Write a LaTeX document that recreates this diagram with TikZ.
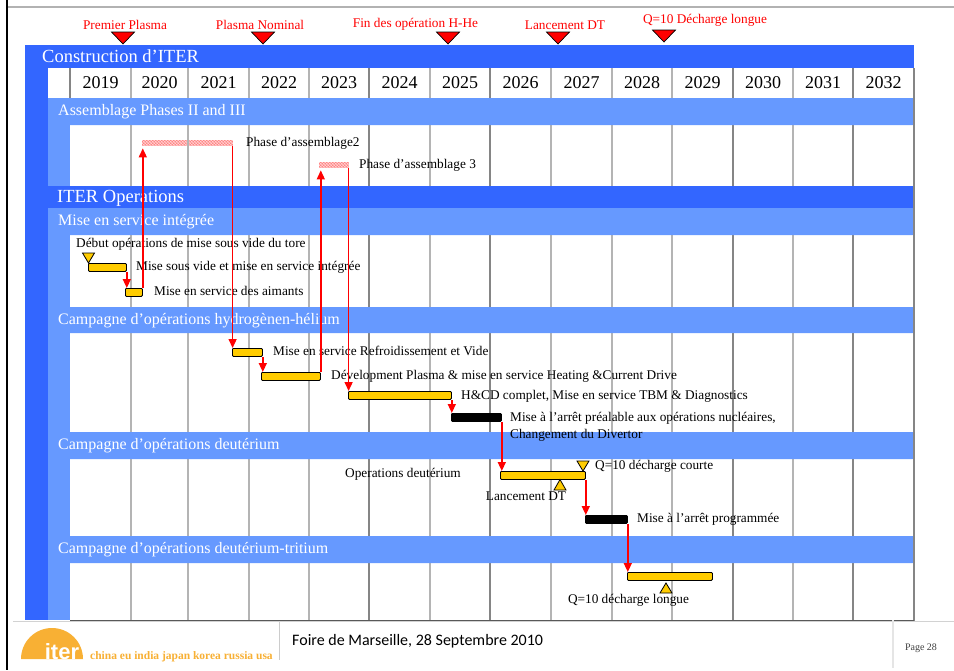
\documentclass[tikz,border=0pt]{standalone}
\usepackage{fontspec}
\setmainfont{Liberation Serif}
\newfontfamily\footfont{Carlito}
\newfontfamily\logofont{Liberation Sans}
\usetikzlibrary{arrows.meta,calc}
\definecolor{dblue}{HTML}{3366FF}
\definecolor{lblue}{HTML}{6699FF}
\definecolor{gold}{HTML}{FFCC00}
\definecolor{mred}{HTML}{FF0000}
\definecolor{pinkfill}{HTML}{FF8080}
\definecolor{iterorange}{HTML}{F8B034}
\definecolor{gridc}{HTML}{B4B4B4}
\definecolor{gridd}{HTML}{858585}
\newcommand\hatchbar[1]{%
  \begin{scope}
    \clip (#1.south west) rectangle (#1.north east);
    \foreach \hh in {-12,-9,...,110}{
      \draw[white,opacity=0.6,line width=0.5pt] ($(#1.south west)+(\hh,0)$) -- ++(10,-10);
      \draw[white,opacity=0.6,line width=0.5pt] ($(#1.north west)+(\hh,0)$) -- ++(10,10);
    }
  \end{scope}}
\begin{document}
\begin{tikzpicture}[x=1pt,y=-1pt,
 bandtxt/.style={anchor=west,inner sep=0,text=white,font=\fontsize{16}{16}\selectfont,text height=11pt,text depth=4pt},
 bigtxt/.style={anchor=west,inner sep=0,text=white,font=\fontsize{18.5}{18.5}\selectfont,text height=13pt,text depth=4pt},
 yeartxt/.style={inner sep=0,font=\fontsize{18}{18}\selectfont},
 lab/.style={anchor=west,inner sep=0,font=\fontsize{13.3}{13.3}\selectfont,text height=9.5pt,text depth=3pt},
 clab/.style={lab,anchor=center},
 redlab/.style={inner sep=0,text=mred,font=\fontsize{13.3}{13.3}\selectfont},
 bar/.style={draw=black,line width=0.8pt,fill=gold,rounded corners=1pt,minimum height=8pt,inner sep=0,anchor=north west},
 blackbar/.style={bar,fill=black},
 hatch/.style={fill=pinkfill,minimum height=6pt,inner sep=0,anchor=north west},
 link/.style={draw=mred,line width=1.5pt,-{Triangle[length=9pt,width=8pt]}},
 redtri/.style={fill=mred,draw=black,line width=0.7pt},
 goldtri/.style={fill=gold,draw=black,line width=0.8pt},
]
\useasboundingbox (0,0) rectangle (954,670);
\fill[white] (0,0) rectangle (954,670);
% page frame
\draw[gray!60,line width=2pt] (7,7) -- (954,7);
\draw[black,line width=2.5pt] (7,0) -- (7,670);
% chart background
\fill[dblue] (25,45) rectangle (914,620);
\fill[lblue] (48,98) rectangle (914,620);
\fill[white] (48,68) rectangle (914,98);
\foreach \ya/\yb in {125/186,235/307,333/432,459/536,563/620}
  \fill[white] (70,\ya) rectangle (914,\yb);
% assemblage bars (under the grid)
\node[hatch,minimum width=91pt] (p2) at (142,140) {};
\node[hatch,minimum width=30pt] (p3) at (319,162) {};
\hatchbar{p2}
\hatchbar{p3}
% grid
\foreach \gx in {131,188,249,309,430,551,612,672,793}
  \draw[gridc,line width=1.3pt] (\gx,68) -- (\gx,620);
\foreach \gx in {369,490,733,853}
  \draw[gridd,line width=1.1pt] (\gx,68) -- (\gx,620);
\draw[gridd,line width=1.2pt] (70,68) -- (70,98);
% bands
\foreach \ya/\yb in {98/125,208/235,307/333,432/459,536/563}
  \fill[lblue,rounded corners=1.5pt] (48,\ya) rectangle (914,\yb);
\fill[dblue] (25,186) rectangle (914,208);
\draw[gridd,line width=1.5pt] (914,68) -- (914,621);
\draw[gray!35,line width=1pt] (13,621) -- (954,621);
\draw[gray!70!black,line width=1.8pt] (70,620.5) -- (914,620.5);
% band titles
\node[bigtxt] (tconst) at (42,58) {Construction d’ITER};
\node[bigtxt] (tops) at (57,197.5) {ITER Operations};
\node[bandtxt] (tassem) at (58,112) {Assemblage Phases II and III};
\node[bandtxt] (tmise) at (58,221.5) {Mise en service intégrée};
\node[bandtxt] (thhe) at (58,320.5) {Campagne d’opérations hydrogènen-hélium};
\node[bandtxt] (tdeut) at (58,445.5) {Campagne d’opérations deutérium};
\node[bandtxt] (tdt) at (58,549.5) {Campagne d’opérations deutérium-tritium};
% years
\foreach \xa/\xb/\yr in {70/131/2019,131/188/2020,188/249/2021,249/309/2022,309/369/2023,369/430/2024,430/490/2025,490/551/2026,551/612/2027,612/672/2028,672/733/2029,733/793/2030,793/853/2031,853/914/2032}
  \node[yeartxt] (y\yr) at ({(\xa+\xb)/2},83) {\yr};
% top milestones
\foreach \mx/\my in {123/32,263/32,448/32,558/32,664/30}
  \draw[redtri] (\mx-11.5,\my) -- (\mx+11.5,\my) -- (\mx,\my+12) -- cycle;
\node[redlab] (mpp) at (125,24.5) {Premier Plasma};
\node[redlab] (mpn) at (260,24.5) {Plasma Nominal};
\node[redlab] (mfin) at (415.5,24.5) {Fin des opération H-He};
\node[redlab] (mldt) at (565,25.5) {Lancement DT};
\node[redlab] (mq10) at (705,20.5) {Q=10 Décharge longue};
% assemblage labels
\node[lab] (lp2) at (246,143) {Phase d’assemblage2};
\node[lab] (lp3) at (359,165) {Phase d’assemblage 3};
% mise en service integree
\draw[goldtri] (82.5,253) -- (94.5,253) -- (88.5,263) -- cycle;
\node[lab] (ldeb) at (76,244.5) {Début opérations de mise sous vide du tore};
\node[bar,minimum width=38pt] (g1) at (88,263) {};
\node[bar,minimum width=17pt] (g2) at (125,288) {};
\node[lab] (lg1) at (136,267) {Mise sous vide et mise en service intégrée};
\node[lab] (lg2) at (154,292) {Mise en service des aimants};
% hydrogene-helium
\node[bar,minimum width=30pt] (h1) at (232,348) {};
\node[bar,minimum width=59pt] (h2) at (261,372) {};
\node[bar,minimum width=103pt] (h3) at (348,391) {};
\node[blackbar,minimum width=50pt] (k1) at (451,413) {};
\node[lab] (lh1) at (273,352.5) {Mise en service Refroidissement et Vide};
\node[lab] (lh2) at (331,376) {Dévelopment Plasma \& mise en service Heating \&Current Drive};
\node[lab] (lh3) at (461,396.5) {H\&CD complet, Mise en service TBM \& Diagnostics};
\node[lab] (lk1a) at (510,418.5) {Mise à l’arrêt préalable aux opérations nucléaires,};
\node[lab] (lk1b) at (510,435) {Changement du Divertor};
% deuterium
\node[bar,minimum width=85pt] (d1) at (500,471) {};
\node[blackbar,minimum width=42pt] (k2) at (585,515) {};
\draw[goldtri] (577,461) -- (589,461) -- (583,471) -- cycle;
\draw[goldtri] (554,490) -- (566,490) -- (560,479.5) -- cycle;
\node[lab] (ld1) at (345,474) {Operations deutérium};
\node[lab] (lq1) at (595,466.5) {Q=10 décharge courte};
\node[clab] (lldt) at (526,497.5) {Lancement DT};
\node[lab] (lk2) at (637,519) {Mise à l’arrêt programmée};
% deuterium-tritium
\node[bar,minimum width=85pt] (t1) at (627,572) {};
\draw[goldtri] (660,593) -- (672,593) -- (666,583) -- cycle;
\node[clab] (lq2) at (628.5,600.5) {Q=10 décharge longue};
% links
\draw[link] (g1.south east) -- (g1.south east |- g2.north);
\draw[link] (g2.north east) -- ($(g2.north east |- p2.south)+(0,2)$);
\draw[link] ($(p2.south east)+(-0.8,0)$) -- ($(p2.south east |- h1.north)+(-0.8,0)$);
\draw[link] (h1.south east) -- (h1.south east |- h2.north);
\draw[link] (h2.north east) -- ($(h2.north east |- p3.south)+(0,2)$);
\draw[link] ($(p3.south east)+(-0.8,0)$) -- ($(p3.south east |- h3.north)+(-0.8,0)$);
\draw[link] (h3.south east) -- (h3.south east |- k1.north);
\draw[link] (k1.south east) -- (k1.south east |- d1.north);
\draw[link] (d1.south east) -- (d1.south east |- k2.north);
\draw[link] (k2.south east) -- (k2.south east |- t1.north);
% footer
\fill[iterorange] (21,659) arc[start angle=180,end angle=360,radius=31] -- cycle;
\node[anchor=base,inner sep=0,text=white,font=\logofont\bfseries\fontsize{22}{22}\selectfont] (logo) at (62,659) {iter};
\node[anchor=west,inner sep=0,text=iterorange,font=\bfseries\fontsize{11.5}{11.5}\selectfont] (tag) at (90,656.5) {china eu india japan korea russia usa};
\draw[gray!40,line width=1pt] (279,622) -- (279,660);
\draw[gray!20,line width=2pt] (893,620) -- (893,668);
\node[anchor=west,inner sep=0,font=\footfont\fontsize{16}{16}\selectfont] (foire) at (292,641) {Foire de Marseille, 28 Septembre 2010};
\node[inner sep=0,text=black!75,font=\fontsize{10}{10}\selectfont] (page) at (921,648) {Page 28};
\end{tikzpicture}
\end{document}
